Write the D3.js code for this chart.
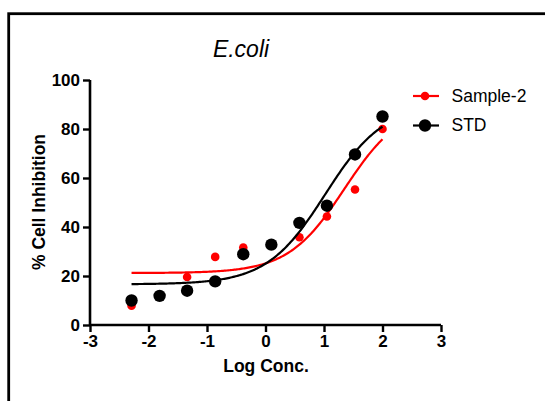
<!DOCTYPE html>
<html>
<head>
  <meta charset="utf-8">
  <title>E.coli</title>
  <style>
    body { margin: 0; background: #fff; }
    svg { display: block; font-family: "Liberation Sans", Arial, sans-serif; }
  </style>
</head>
<body>

  <script src="https://d3js.org/d3.v7.min.js"></script>
  <script type="text/javascript">

 // data
 var seriesNames = ["Sample-2", "STD"];
 var seriesColors = ["#ff0000", "#000000"];

 var sampleConc = [-2.29, -1.34, -0.86, -0.38, 0.58, 1.05, 1.53, 2.00];
 var sampleVals = [7.9, 19.6, 27.8, 31.6, 35.8, 44.3, 55.3, 80.0];

 var stdConc = [-2.29, -1.81, -1.34, -0.86, -0.38, 0.10, 0.58, 1.05, 1.53, 2.00];
 var stdVals = [10.0, 11.9, 14.0, 17.8, 28.9, 32.8, 41.7, 48.7, 69.6, 85.1];

 // 4PL fit: bottom, top, logEC50, hill slope
 var sampleFit = [21.2, 90, 1.35, 0.9];
 var stdFit    = [16.6, 90, 1.02, 0.87];

 var xTicks = [-3, -2, -1, 0, 1, 2, 3];
 var yTicks = [0, 20, 40, 60, 80, 100];

 var W = 545, H = 401;
 var margin = {top: 80, left: 90},
     width  = 351,
     height = 245;

 var svg = d3.select("body")
            .append("svg")
            .attr("width", W)
            .attr("height", H);

 // frame
 svg.append("rect")
    .attr("x", 8.7).attr("y", 13.7)
    .attr("width", 700).attr("height", 700)
    .attr("fill", "none")
    .attr("stroke", "#000")
    .attr("stroke-width", 2.8);

 var chart = svg.append("g")
     .attr("transform", "translate(" + margin.left + "," + margin.top + ")");

 var x = d3.scaleLinear().domain([-3, 3]).range([0, width]);
 var y = d3.scaleLinear().domain([0, 100]).range([height, 0]);

 function fourPL(p, v) {
   return p[0] + (p[1] - p[0]) / (1 + Math.pow(10, (p[2] - v) * p[3]));
 }

 var series = [
   {name: seriesNames[0], color: seriesColors[0], conc: sampleConc, vals: sampleVals, fit: sampleFit, r: 4.3},
   {name: seriesNames[1], color: seriesColors[1], conc: stdConc, vals: stdVals, fit: stdFit, r: 6.2}
 ];

 var line = d3.line()
     .x(function(d){ return x(d[0]); })
     .y(function(d){ return y(d[1]); });

 series.forEach(function(s){
   var lo = d3.min(s.conc), hi = d3.max(s.conc);
   var pts = d3.range(0, 201).map(function(i){
     var v = lo + (hi - lo) * i / 200;
     return [v, fourPL(s.fit, v)];
   });
   chart.append("path")
        .datum(pts)
        .attr("d", line)
        .attr("fill", "none")
        .attr("stroke", s.color)
        .attr("stroke-width", 2.2);

   chart.selectAll(null)
        .data(s.conc.map(function(c, i){ return [c, s.vals[i]]; }))
        .enter()
        .append("circle")
        .attr("cx", function(d){ return x(d[0]); })
        .attr("cy", function(d){ return y(d[1]); })
        .attr("r", s.r)
        .attr("fill", s.color);
 });

 // axes
 var xAxis = chart.append("g")
    .attr("transform", "translate(0," + height + ")")
    .call(d3.axisBottom(x).tickValues(xTicks).tickSize(7).tickPadding(3)
          .tickFormat(function(d){ return String(d); }));

 var yAxis = chart.append("g")
    .call(d3.axisLeft(y).tickValues(yTicks).tickSize(7).tickPadding(3)
          .tickFormat(function(d){ return String(d); }));

 [xAxis, yAxis].forEach(function(a){
   a.select(".domain").attr("stroke", "#000").attr("stroke-width", 2.6);
   a.selectAll(".tick line").attr("stroke", "#000").attr("stroke-width", 2.4);
   a.selectAll(".tick text")
    .attr("font-family", "Liberation Sans, Arial, sans-serif")
    .attr("font-size", "17px")
    .attr("font-weight", "bold")
    .attr("fill", "#000");
 });
 xAxis.select(".domain").attr("d", "M0,0H" + width);
 yAxis.select(".domain").attr("d", "M0,0V" + height);

 // titles
 svg.append("text")
    .attr("x", 241).attr("y", 57)
    .attr("text-anchor", "middle")
    .attr("font-size", "23px")
    .attr("font-style", "italic")
    .text("E.coli");

 svg.append("text")
    .attr("x", 266).attr("y", 372)
    .attr("text-anchor", "middle")
    .attr("font-size", "17.5px")
    .attr("font-weight", "bold")
    .text("Log Conc.");

 svg.append("text")
    .attr("transform", "translate(44.5,202) rotate(-90)")
    .attr("text-anchor", "middle")
    .attr("font-size", "17.5px")
    .attr("font-weight", "bold")
    .text("% Cell Inhibition");

 // legend
 var legend = svg.selectAll(".legend")
    .data(series)
    .enter()
    .append("g")
    .attr("transform", function(d, i){ return "translate(413," + (96 + i * 29.5) + ")"; });

 legend.append("line")
    .attr("x1", 0).attr("x2", 26)
    .attr("stroke", function(d){ return d.color; })
    .attr("stroke-width", 2.2);
 legend.append("circle")
    .attr("cx", 12).attr("r", function(d){ return d.r; })
    .attr("fill", function(d){ return d.color; });
 legend.append("text")
    .attr("x", 38.5).attr("y", 5.5)
    .attr("font-size", "17.5px")
    .text(function(d){ return d.name; });

  </script>
</body>
</html>
